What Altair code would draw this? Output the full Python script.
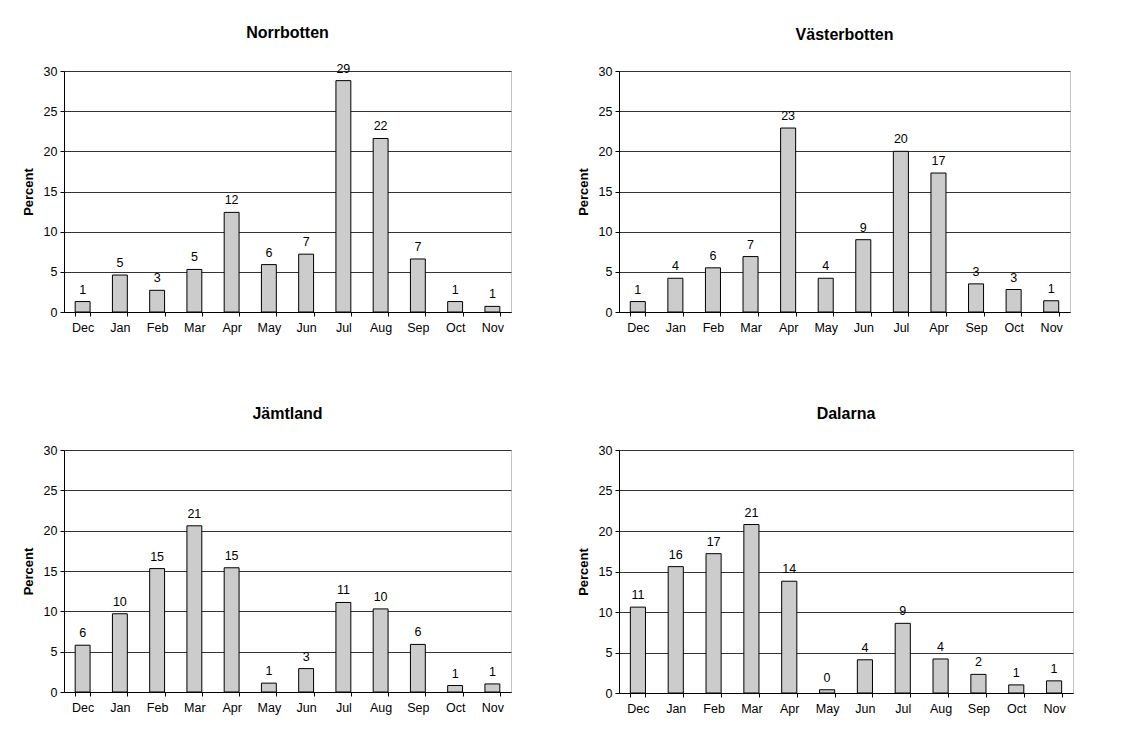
import altair as alt
import pandas as pd

months = ["Dec", "Jan", "Feb", "Mar", "Apr", "May", "Jun", "Jul", "Aug", "Sep", "Oct", "Nov"]
months_vb = ["Dec", "Jan", "Feb", "Mar", "Apr", "May", "Jun", "Jul", "Apr", "Sep", "Oct", "Nov"]

norrbotten = [1.3, 4.6, 2.7, 5.3, 12.4, 5.9, 7.2, 28.8, 21.6, 6.6, 1.3, 0.7]
norrbotten_lbl = [1, 5, 3, 5, 12, 6, 7, 29, 22, 7, 1, 1]

vasterbotten = [1.3, 4.2, 5.5, 6.9, 22.9, 4.2, 9.0, 20.0, 17.3, 3.5, 2.8, 1.4]
vasterbotten_lbl = [1, 4, 6, 7, 23, 4, 9, 20, 17, 3, 3, 1]

jamtland = [5.8, 9.7, 15.3, 20.6, 15.4, 1.1, 2.9, 11.1, 10.3, 5.9, 0.8, 1.0]
jamtland_lbl = [6, 10, 15, 21, 15, 1, 3, 11, 10, 6, 1, 1]

dalarna = [10.6, 15.6, 17.2, 20.8, 13.8, 0.4, 4.1, 8.6, 4.2, 2.3, 1.0, 1.5]
dalarna_lbl = [11, 16, 17, 21, 14, 0, 4, 9, 4, 2, 1, 1]

y_ticks = [0, 5, 10, 15, 20, 25, 30]


def panel(title, labels, values, texts, w, h):
    df = pd.DataFrame({"i": list(range(len(values))), "v": values, "t": texts})
    label_expr = "[" + ",".join("'" + m + "'" for m in labels) + "][datum.value]"
    x = alt.X(
        "i:O",
        title=None,
        scale=alt.Scale(paddingInner=0.6, paddingOuter=0.3),
        axis=alt.Axis(
            labelExpr=label_expr,
            labelAngle=0,
            tickBand="extent",
            domainColor="black",
            tickColor="black",
            tickSize=4,
            labelPadding=5,
            grid=False,
        ),
    )
    y = alt.Y(
        "v:Q",
        title="Percent",
        scale=alt.Scale(domain=[0, 30], nice=False),
        axis=alt.Axis(
            values=y_ticks,
            grid=True,
            gridColor="#333333",
            gridWidth=1,
            domainColor="black",
            tickColor="black",
            tickSize=4,
            labelPadding=3,
            titlePadding=8,
        ),
    )
    bars = alt.Chart(df).mark_bar(
        fill="#cccccc", stroke="black", strokeWidth=1
    ).encode(x=x, y=y)
    text = alt.Chart(df).mark_text(
        baseline="bottom", dy=-5, fontSize=12.5, color="black", font="Liberation Sans"
    ).encode(x="i:O", y="v:Q", text="t:Q")
    return alt.layer(bars, text).properties(
        width=w,
        height=h,
        title=alt.TitleParams(title, offset=22),
    )


p1 = panel("Norrbotten", months, norrbotten, norrbotten_lbl, 447, 241)
p2 = panel("Västerbotten", months_vb, vasterbotten, vasterbotten_lbl, 451, 241)
p3 = panel("Jämtland", months, jamtland, jamtland_lbl, 447, 242)
p4 = panel("Dalarna", months, dalarna, dalarna_lbl, 454, 243)

chart = (
    alt.vconcat(
        alt.hconcat(p1, p2, spacing=64),
        alt.hconcat(p3, p4, spacing=64),
        spacing=71,
    )
    .properties(padding={"left": 13, "top": 16, "right": 5, "bottom": 5})
    .configure(font="Liberation Sans")
    .configure_view(stroke="#888888", strokeDash=[1, 1], strokeWidth=1)
    .configure_axis(
        labelFontSize=12.5,
        labelColor="black",
        titleFontSize=13,
        titleFontWeight="bold",
        titleColor="black",
        labelFont="Liberation Sans",
        titleFont="Liberation Sans",
    )
    .configure_title(
        fontSize=16, fontWeight="bold", color="black", font="Liberation Sans", anchor="middle"
    )
)

chart.save("out.html", embed_options={"renderer": "svg", "actions": False})
